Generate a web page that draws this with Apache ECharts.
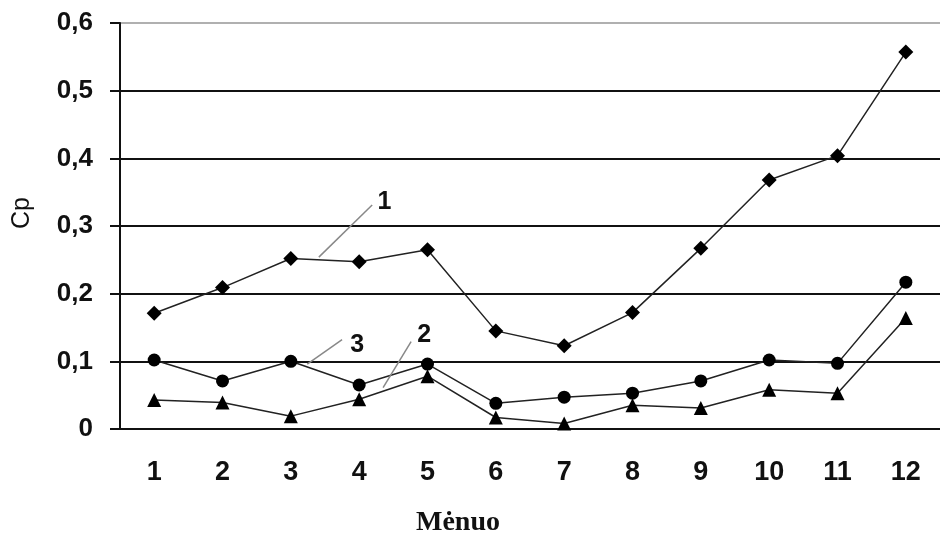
<!DOCTYPE html>
<html><head><meta charset="utf-8">
<script src="https://cdn.jsdelivr.net/npm/echarts@6/dist/echarts.min.js"></script>
<style>html,body{margin:0;padding:0;background:#fff}#c{width:940px;height:538px}</style>
</head><body><div id="c"></div>
<script>
var categories = ['1','2','3','4','5','6','7','8','9','10','11','12'];
var series1 = [0.171,0.209,0.252,0.247,0.265,0.145,0.123,0.172,0.267,0.368,0.404,0.557];
var series2 = [0.043,0.039,0.019,0.044,0.078,0.017,0.008,0.035,0.031,0.058,0.053,0.164];
var series3 = [0.102,0.071,0.100,0.065,0.096,0.038,0.047,0.053,0.071,0.102,0.097,0.217];
var yTicks = [0,0.1,0.2,0.3,0.4,0.5,0.6];
var xName = 'Mėnuo';
var yName = 'Cp';
// annotations: label, leader start [catIndex, value], leader end, label position
var notes = [
  {text:'1', from:[2.41,0.254], to:[3.19,0.331], at:[3.37,0.335]},
  {text:'3', from:[2.24,0.096], to:[2.75,0.132], at:[2.97,0.124]},
  {text:'2', from:[3.35,0.061], to:[3.76,0.129], at:[3.95,0.139]}
];

var chart = echarts.init(document.getElementById('c'), null, {renderer:'canvas'});
var lineStyle = {color:'#222', width:1.5};
function mk(name, data, symbol, size){
  return {name:name, type:'line', data:data, symbol:symbol, symbolSize:size,
    lineStyle:lineStyle, itemStyle:{color:'#000'}, animation:false, z:3};
}
var splitColors = yTicks.map(function(v,i){return i===yTicks.length-1?'#b0b0b0':'#111';});
chart.setOption({
  animation:false,
  grid:{left:120, top:23, bottom:109, right:-11},
  xAxis:{type:'category', data:categories, boundaryGap:true,
    axisLine:{lineStyle:{color:'#111', width:2}},
    axisTick:{length:9, lineStyle:{color:'#111', width:2}},
    axisLabel:{color:'#111', fontFamily:'Liberation Sans, Arial', fontWeight:'bold', fontSize:27, margin:30}},
  yAxis:{type:'value', min:0, max:0.6, interval:0.1,
    axisLine:{show:true, lineStyle:{color:'#111', width:2}},
    axisTick:{show:true, inside:false, length:10, lineStyle:{color:'#111', width:2}},
    splitLine:{show:true, lineStyle:{color:splitColors, width:2}},
    axisLabel:{color:'#111', fontFamily:'Liberation Sans, Arial', fontWeight:'bold', fontSize:26, margin:27,
      formatter:function(v){return v===0?'0':v.toFixed(1).replace('.',',');}}},
  series:[
    mk('1', series1, 'diamond', 15),
    mk('2', series2, 'triangle', 14),
    mk('3', series3, 'circle', 13)
  ]
});

function px(pt){
  var a = chart.convertToPixel({gridIndex:0}, [0, pt[1]]);
  var b = chart.convertToPixel({gridIndex:0}, [1, pt[1]]);
  return [a[0] + (b[0]-a[0])*pt[0], a[1]];
}
var g = [];
notes.forEach(function(n){
  var f = px(n.from), t = px(n.to), l = px(n.at);
  g.push({type:'line', shape:{x1:f[0],y1:f[1],x2:t[0],y2:t[1]}, style:{stroke:'#888', lineWidth:1.5}, z:10});
  g.push({type:'text', x:l[0], y:l[1], style:{text:n.text, fill:'#111', font:'bold 25px Liberation Sans, Arial', textAlign:'center', textVerticalAlign:'middle'}, z:10});
});
g.push({type:'text', x:458, y:523, style:{text:xName, fill:'#111', font:'bold 28px Liberation Serif, Times New Roman, serif', textAlign:'center', textVerticalAlign:'middle'}});
g.push({type:'text', x:22, y:213, rotation:Math.PI/2, style:{text:yName, fill:'#111', font:'25px Liberation Sans, Arial', textAlign:'center', textVerticalAlign:'middle'}});
chart.setOption({graphic:g});
</script></body></html>
